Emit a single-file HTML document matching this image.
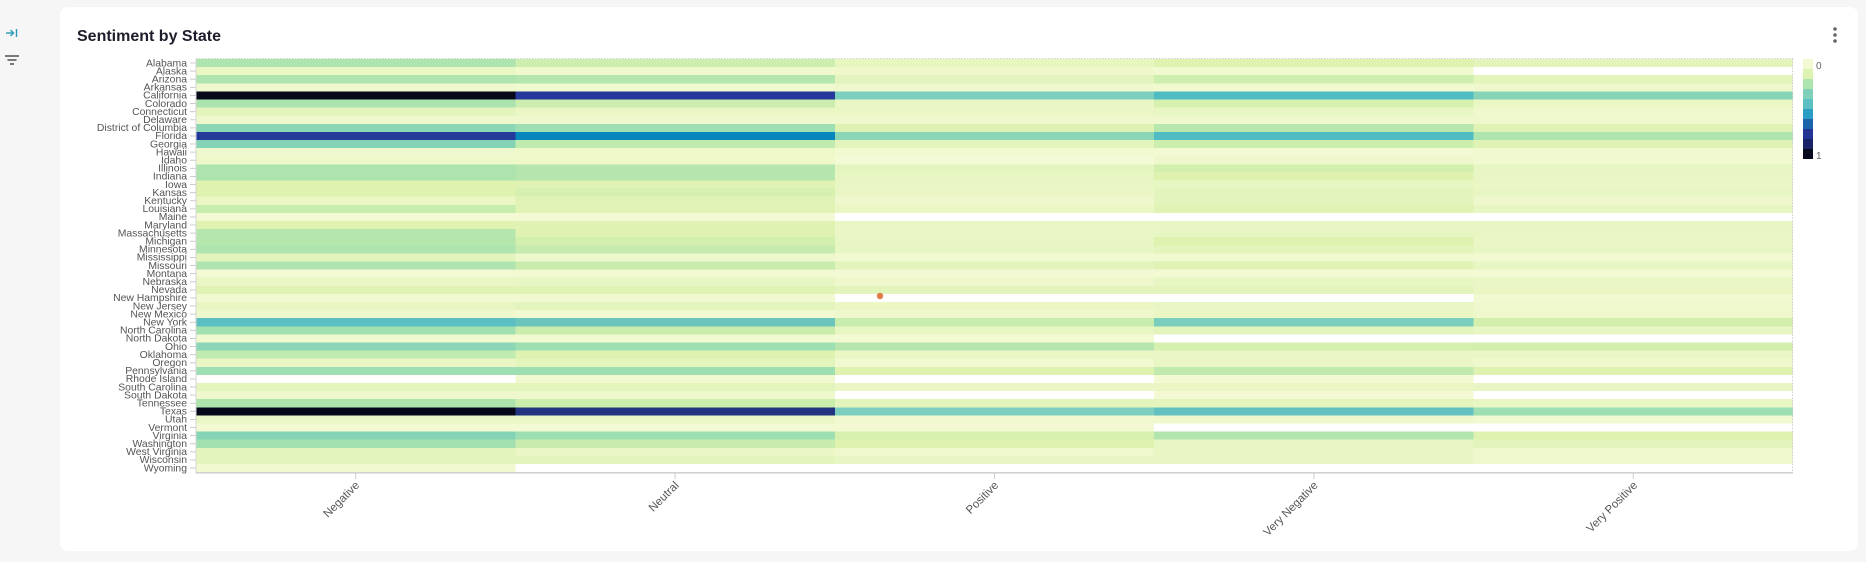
<!DOCTYPE html>
<html><head><meta charset="utf-8"><style>
html,body{margin:0;padding:0;background:#f6f6f6;width:1866px;height:562px;overflow:hidden;font-family:"Liberation Sans",sans-serif}
.card{position:absolute;left:60px;top:7px;width:1798px;height:544px;background:#fff;border-radius:8px}
svg{position:absolute;left:0;top:0}
</style></head><body>
<div class="card"></div>
<svg width="1866" height="562" viewBox="0 0 1866 562" xmlns="http://www.w3.org/2000/svg">
<!-- sidebar icons -->
<g stroke="#2b9cb8" stroke-width="1.4" fill="none">
<line x1="6" y1="33" x2="13.5" y2="33"/><polyline points="10.5,30 13.5,33 10.5,36"/><line x1="16.5" y1="29" x2="16.5" y2="37"/>
</g>
<g stroke="#444" stroke-width="1.4">
<line x1="5" y1="56" x2="19" y2="56"/><line x1="7.5" y1="60" x2="16.5" y2="60"/><line x1="10" y1="64" x2="14" y2="64"/>
</g>
<!-- title -->
<text x="77" y="41" font-family="Liberation Sans, sans-serif" font-size="16" font-weight="bold" fill="#1d1d2b">Sentiment by State</text>
<!-- kebab -->
<g fill="#666"><circle cx="1835" cy="29" r="1.8"/><circle cx="1835" cy="35" r="1.8"/><circle cx="1835" cy="41" r="1.8"/></g>

<!-- heatmap cells -->
<g shape-rendering="crispEdges">
<g transform="translate(0,59)"><rect x="196" width="319.6" height="8.2" fill="#aee5ae"/><rect x="515.4" width="319.6" height="8.2" fill="#cdeeae"/><rect x="834.8" width="319.6" height="8.2" fill="#e8f6c0"/><rect x="1154.2" width="319.6" height="8.2" fill="#dff2b0"/><rect x="1473.6" width="319.4" height="8.2" fill="#e3f4bc"/></g>
<g transform="translate(0,67.1)"><rect x="196" width="319.6" height="8.2" fill="#eaf7c4"/><rect x="515.4" width="319.6" height="8.2" fill="#eff9cb"/><rect x="834.8" width="319.6" height="8.2" fill="#eff8cb"/><rect x="1154.2" width="319.6" height="8.2" fill="#f0f9cf"/><rect x="1473.6" width="319.4" height="8.2" fill="#ffffff"/></g>
<g transform="translate(0,75.2)"><rect x="196" width="319.6" height="8.2" fill="#b0e4ae"/><rect x="515.4" width="319.6" height="8.2" fill="#b5e6ae"/><rect x="834.8" width="319.6" height="8.2" fill="#e3f4bf"/><rect x="1154.2" width="319.6" height="8.2" fill="#cdeeae"/><rect x="1473.6" width="319.4" height="8.2" fill="#e3f4bc"/></g>
<g transform="translate(0,83.3)"><rect x="196" width="319.6" height="8.2" fill="#eef8cc"/><rect x="515.4" width="319.6" height="8.2" fill="#f0f9cf"/><rect x="834.8" width="319.6" height="8.2" fill="#eef8cc"/><rect x="1154.2" width="319.6" height="8.2" fill="#f0f9cf"/><rect x="1473.6" width="319.4" height="8.2" fill="#eef8cc"/></g>
<g transform="translate(0,91.4)"><rect x="196" width="319.6" height="8.2" fill="#07071a"/><rect x="515.4" width="319.6" height="8.2" fill="#25379a"/><rect x="834.8" width="319.6" height="8.2" fill="#7ccfbe"/><rect x="1154.2" width="319.6" height="8.2" fill="#51bbc4"/><rect x="1473.6" width="319.4" height="8.2" fill="#86d3b8"/></g>
<g transform="translate(0,99.5)"><rect x="196" width="319.6" height="8.2" fill="#abe3ae"/><rect x="515.4" width="319.6" height="8.2" fill="#cbedae"/><rect x="834.8" width="319.6" height="8.2" fill="#eaf7c5"/><rect x="1154.2" width="319.6" height="8.2" fill="#d6f0b0"/><rect x="1473.6" width="319.4" height="8.2" fill="#eaf7c5"/></g>
<g transform="translate(0,107.6)"><rect x="196" width="319.6" height="8.2" fill="#e3f4bd"/><rect x="515.4" width="319.6" height="8.2" fill="#eaf7c5"/><rect x="834.8" width="319.6" height="8.2" fill="#eaf7c5"/><rect x="1154.2" width="319.6" height="8.2" fill="#e8f6c3"/><rect x="1473.6" width="319.4" height="8.2" fill="#eef8cc"/></g>
<g transform="translate(0,115.7)"><rect x="196" width="319.6" height="8.2" fill="#eef8cc"/><rect x="515.4" width="319.6" height="8.2" fill="#eef8cc"/><rect x="834.8" width="319.6" height="8.2" fill="#eef8cc"/><rect x="1154.2" width="319.6" height="8.2" fill="#eef8cc"/><rect x="1473.6" width="319.4" height="8.2" fill="#eef8cc"/></g>
<g transform="translate(0,123.8)"><rect x="196" width="319.6" height="8.2" fill="#8bd6b5"/><rect x="515.4" width="319.6" height="8.2" fill="#9ddfb2"/><rect x="834.8" width="319.6" height="8.2" fill="#def2b3"/><rect x="1154.2" width="319.6" height="8.2" fill="#b8e7ae"/><rect x="1473.6" width="319.4" height="8.2" fill="#e0f3b5"/></g>
<g transform="translate(0,131.9)"><rect x="196" width="319.6" height="8.2" fill="#24399a"/><rect x="515.4" width="319.6" height="8.2" fill="#0785bd"/><rect x="834.8" width="319.6" height="8.2" fill="#8ad6b6"/><rect x="1154.2" width="319.6" height="8.2" fill="#51bbc4"/><rect x="1473.6" width="319.4" height="8.2" fill="#aee5ae"/></g>
<g transform="translate(0,140)"><rect x="196" width="319.6" height="8.2" fill="#85d3b6"/><rect x="515.4" width="319.6" height="8.2" fill="#c0eaae"/><rect x="834.8" width="319.6" height="8.2" fill="#e3f4bc"/><rect x="1154.2" width="319.6" height="8.2" fill="#cbedae"/><rect x="1473.6" width="319.4" height="8.2" fill="#e0f3b5"/></g>
<g transform="translate(0,148.1)"><rect x="196" width="319.6" height="8.2" fill="#eef8ce"/><rect x="515.4" width="319.6" height="8.2" fill="#eef8c8"/><rect x="834.8" width="319.6" height="8.2" fill="#f0f9cf"/><rect x="1154.2" width="319.6" height="8.2" fill="#f3f9d3"/><rect x="1473.6" width="319.4" height="8.2" fill="#f0f9cf"/></g>
<g transform="translate(0,156.2)"><rect x="196" width="319.6" height="8.2" fill="#eef8c8"/><rect x="515.4" width="319.6" height="8.2" fill="#eef8c8"/><rect x="834.8" width="319.6" height="8.2" fill="#f3fad6"/><rect x="1154.2" width="319.6" height="8.2" fill="#eef8cc"/><rect x="1473.6" width="319.4" height="8.2" fill="#f0f9cf"/></g>
<g transform="translate(0,164.3)"><rect x="196" width="319.6" height="8.2" fill="#ade4ae"/><rect x="515.4" width="319.6" height="8.2" fill="#b6e6ae"/><rect x="834.8" width="319.6" height="8.2" fill="#e5f5c0"/><rect x="1154.2" width="319.6" height="8.2" fill="#d3efae"/><rect x="1473.6" width="319.4" height="8.2" fill="#e8f6c3"/></g>
<g transform="translate(0,172.4)"><rect x="196" width="319.6" height="8.2" fill="#ade4ae"/><rect x="515.4" width="319.6" height="8.2" fill="#b6e6ae"/><rect x="834.8" width="319.6" height="8.2" fill="#e8f6c3"/><rect x="1154.2" width="319.6" height="8.2" fill="#dff2b0"/><rect x="1473.6" width="319.4" height="8.2" fill="#e8f6c3"/></g>
<g transform="translate(0,180.5)"><rect x="196" width="319.6" height="8.2" fill="#dff2b0"/><rect x="515.4" width="319.6" height="8.2" fill="#e0f3b5"/><rect x="834.8" width="319.6" height="8.2" fill="#e8f6c3"/><rect x="1154.2" width="319.6" height="8.2" fill="#e8f6c3"/><rect x="1473.6" width="319.4" height="8.2" fill="#eaf7c5"/></g>
<g transform="translate(0,188.6)"><rect x="196" width="319.6" height="8.2" fill="#dff2b0"/><rect x="515.4" width="319.6" height="8.2" fill="#d6f0b0"/><rect x="834.8" width="319.6" height="8.2" fill="#eaf7c4"/><rect x="1154.2" width="319.6" height="8.2" fill="#e3f4bc"/><rect x="1473.6" width="319.4" height="8.2" fill="#e8f6c3"/></g>
<g transform="translate(0,196.7)"><rect x="196" width="319.6" height="8.2" fill="#eaf7c5"/><rect x="515.4" width="319.6" height="8.2" fill="#e0f3b5"/><rect x="834.8" width="319.6" height="8.2" fill="#eef8cc"/><rect x="1154.2" width="319.6" height="8.2" fill="#e3f4bc"/><rect x="1473.6" width="319.4" height="8.2" fill="#eef8cc"/></g>
<g transform="translate(0,204.8)"><rect x="196" width="319.6" height="8.2" fill="#c6ecae"/><rect x="515.4" width="319.6" height="8.2" fill="#e0f3b5"/><rect x="834.8" width="319.6" height="8.2" fill="#eaf7c5"/><rect x="1154.2" width="319.6" height="8.2" fill="#e0f3b5"/><rect x="1473.6" width="319.4" height="8.2" fill="#e8f6c3"/></g>
<g transform="translate(0,212.9)"><rect x="196" width="319.6" height="8.2" fill="#f3f9d3"/><rect x="515.4" width="319.6" height="8.2" fill="#f3f9d3"/><rect x="834.8" width="319.6" height="8.2" fill="#ffffff"/><rect x="1154.2" width="319.6" height="8.2" fill="#ffffff"/><rect x="1473.6" width="319.4" height="8.2" fill="#ffffff"/></g>
<g transform="translate(0,221)"><rect x="196" width="319.6" height="8.2" fill="#dff2b0"/><rect x="515.4" width="319.6" height="8.2" fill="#e0f3b5"/><rect x="834.8" width="319.6" height="8.2" fill="#eaf7c5"/><rect x="1154.2" width="319.6" height="8.2" fill="#e8f6c3"/><rect x="1473.6" width="319.4" height="8.2" fill="#e8f6c3"/></g>
<g transform="translate(0,229.1)"><rect x="196" width="319.6" height="8.2" fill="#b5e6ae"/><rect x="515.4" width="319.6" height="8.2" fill="#dff2b2"/><rect x="834.8" width="319.6" height="8.2" fill="#eaf7c5"/><rect x="1154.2" width="319.6" height="8.2" fill="#e8f6c3"/><rect x="1473.6" width="319.4" height="8.2" fill="#e8f6c3"/></g>
<g transform="translate(0,237.2)"><rect x="196" width="319.6" height="8.2" fill="#b5e6ae"/><rect x="515.4" width="319.6" height="8.2" fill="#d3efae"/><rect x="834.8" width="319.6" height="8.2" fill="#e8f6c3"/><rect x="1154.2" width="319.6" height="8.2" fill="#dff2b0"/><rect x="1473.6" width="319.4" height="8.2" fill="#eaf7c5"/></g>
<g transform="translate(0,245.3)"><rect x="196" width="319.6" height="8.2" fill="#b0e4ae"/><rect x="515.4" width="319.6" height="8.2" fill="#c5ebae"/><rect x="834.8" width="319.6" height="8.2" fill="#e8f6c3"/><rect x="1154.2" width="319.6" height="8.2" fill="#e3f4bc"/><rect x="1473.6" width="319.4" height="8.2" fill="#e8f6c3"/></g>
<g transform="translate(0,253.4)"><rect x="196" width="319.6" height="8.2" fill="#e3f4bd"/><rect x="515.4" width="319.6" height="8.2" fill="#eef8cc"/><rect x="834.8" width="319.6" height="8.2" fill="#f0f9cf"/><rect x="1154.2" width="319.6" height="8.2" fill="#f0f9cf"/><rect x="1473.6" width="319.4" height="8.2" fill="#f0f9cf"/></g>
<g transform="translate(0,261.5)"><rect x="196" width="319.6" height="8.2" fill="#b0e4ae"/><rect x="515.4" width="319.6" height="8.2" fill="#c7ecae"/><rect x="834.8" width="319.6" height="8.2" fill="#e3f4bc"/><rect x="1154.2" width="319.6" height="8.2" fill="#e0f3b5"/><rect x="1473.6" width="319.4" height="8.2" fill="#e8f6c3"/></g>
<g transform="translate(0,269.6)"><rect x="196" width="319.6" height="8.2" fill="#f3f9d3"/><rect x="515.4" width="319.6" height="8.2" fill="#f0f9cf"/><rect x="834.8" width="319.6" height="8.2" fill="#f3f9d3"/><rect x="1154.2" width="319.6" height="8.2" fill="#f3f9d3"/><rect x="1473.6" width="319.4" height="8.2" fill="#f3f9d3"/></g>
<g transform="translate(0,277.7)"><rect x="196" width="319.6" height="8.2" fill="#eaf7c5"/><rect x="515.4" width="319.6" height="8.2" fill="#e8f6c3"/><rect x="834.8" width="319.6" height="8.2" fill="#eef8cc"/><rect x="1154.2" width="319.6" height="8.2" fill="#e8f6c3"/><rect x="1473.6" width="319.4" height="8.2" fill="#eaf7c5"/></g>
<g transform="translate(0,285.8)"><rect x="196" width="319.6" height="8.2" fill="#e0f3b5"/><rect x="515.4" width="319.6" height="8.2" fill="#e0f3b5"/><rect x="834.8" width="319.6" height="8.2" fill="#e3f4bc"/><rect x="1154.2" width="319.6" height="8.2" fill="#e3f4bc"/><rect x="1473.6" width="319.4" height="8.2" fill="#eaf7c5"/></g>
<g transform="translate(0,293.9)"><rect x="196" width="319.6" height="8.2" fill="#f0f9cf"/><rect x="515.4" width="319.6" height="8.2" fill="#f0f9cf"/><rect x="834.8" width="319.6" height="8.2" fill="#ffffff"/><rect x="1154.2" width="319.6" height="8.2" fill="#ffffff"/><rect x="1473.6" width="319.4" height="8.2" fill="#f0f9cf"/></g>
<g transform="translate(0,302)"><rect x="196" width="319.6" height="8.2" fill="#e8f6c3"/><rect x="515.4" width="319.6" height="8.2" fill="#e3f4bc"/><rect x="834.8" width="319.6" height="8.2" fill="#eaf7c5"/><rect x="1154.2" width="319.6" height="8.2" fill="#e8f6c3"/><rect x="1473.6" width="319.4" height="8.2" fill="#eef8cc"/></g>
<g transform="translate(0,310.1)"><rect x="196" width="319.6" height="8.2" fill="#eef8cc"/><rect x="515.4" width="319.6" height="8.2" fill="#f0f9cf"/><rect x="834.8" width="319.6" height="8.2" fill="#eef8cc"/><rect x="1154.2" width="319.6" height="8.2" fill="#eaf7c5"/><rect x="1473.6" width="319.4" height="8.2" fill="#eef8cc"/></g>
<g transform="translate(0,318.2)"><rect x="196" width="319.6" height="8.2" fill="#5cbfc2"/><rect x="515.4" width="319.6" height="8.2" fill="#6cc5bd"/><rect x="834.8" width="319.6" height="8.2" fill="#c7ecae"/><rect x="1154.2" width="319.6" height="8.2" fill="#79cebe"/><rect x="1473.6" width="319.4" height="8.2" fill="#d3efae"/></g>
<g transform="translate(0,326.3)"><rect x="196" width="319.6" height="8.2" fill="#a3e0b0"/><rect x="515.4" width="319.6" height="8.2" fill="#caedae"/><rect x="834.8" width="319.6" height="8.2" fill="#e8f6c3"/><rect x="1154.2" width="319.6" height="8.2" fill="#e3f4bc"/><rect x="1473.6" width="319.4" height="8.2" fill="#e8f6c3"/></g>
<g transform="translate(0,334.4)"><rect x="196" width="319.6" height="8.2" fill="#f0f9cf"/><rect x="515.4" width="319.6" height="8.2" fill="#f0f9cf"/><rect x="834.8" width="319.6" height="8.2" fill="#f3f9d3"/><rect x="1154.2" width="319.6" height="8.2" fill="#ffffff"/><rect x="1473.6" width="319.4" height="8.2" fill="#ffffff"/></g>
<g transform="translate(0,342.5)"><rect x="196" width="319.6" height="8.2" fill="#8bd6b6"/><rect x="515.4" width="319.6" height="8.2" fill="#9ddfb2"/><rect x="834.8" width="319.6" height="8.2" fill="#b6e6ae"/><rect x="1154.2" width="319.6" height="8.2" fill="#d6f0b0"/><rect x="1473.6" width="319.4" height="8.2" fill="#d3efae"/></g>
<g transform="translate(0,350.6)"><rect x="196" width="319.6" height="8.2" fill="#c0eaae"/><rect x="515.4" width="319.6" height="8.2" fill="#dff2b2"/><rect x="834.8" width="319.6" height="8.2" fill="#eaf7c5"/><rect x="1154.2" width="319.6" height="8.2" fill="#eaf7c5"/><rect x="1473.6" width="319.4" height="8.2" fill="#eaf7c5"/></g>
<g transform="translate(0,358.7)"><rect x="196" width="319.6" height="8.2" fill="#eaf7c5"/><rect x="515.4" width="319.6" height="8.2" fill="#e3f4bc"/><rect x="834.8" width="319.6" height="8.2" fill="#f0f9cf"/><rect x="1154.2" width="319.6" height="8.2" fill="#eaf7c5"/><rect x="1473.6" width="319.4" height="8.2" fill="#eef8cc"/></g>
<g transform="translate(0,366.8)"><rect x="196" width="319.6" height="8.2" fill="#9ddfb2"/><rect x="515.4" width="319.6" height="8.2" fill="#9ddfb2"/><rect x="834.8" width="319.6" height="8.2" fill="#dff2b0"/><rect x="1154.2" width="319.6" height="8.2" fill="#c0eaae"/><rect x="1473.6" width="319.4" height="8.2" fill="#dff2b0"/></g>
<g transform="translate(0,374.9)"><rect x="196" width="319.6" height="8.2" fill="#ffffff"/><rect x="515.4" width="319.6" height="8.2" fill="#f0f9cf"/><rect x="834.8" width="319.6" height="8.2" fill="#ffffff"/><rect x="1154.2" width="319.6" height="8.2" fill="#f3f9d3"/><rect x="1473.6" width="319.4" height="8.2" fill="#ffffff"/></g>
<g transform="translate(0,383)"><rect x="196" width="319.6" height="8.2" fill="#e3f4bc"/><rect x="515.4" width="319.6" height="8.2" fill="#e3f4bc"/><rect x="834.8" width="319.6" height="8.2" fill="#eaf7c5"/><rect x="1154.2" width="319.6" height="8.2" fill="#eaf7c5"/><rect x="1473.6" width="319.4" height="8.2" fill="#e8f6c3"/></g>
<g transform="translate(0,391.1)"><rect x="196" width="319.6" height="8.2" fill="#eef8cc"/><rect x="515.4" width="319.6" height="8.2" fill="#eef8cc"/><rect x="834.8" width="319.6" height="8.2" fill="#ffffff"/><rect x="1154.2" width="319.6" height="8.2" fill="#f3f9d3"/><rect x="1473.6" width="319.4" height="8.2" fill="#ffffff"/></g>
<g transform="translate(0,399.2)"><rect x="196" width="319.6" height="8.2" fill="#ade4ae"/><rect x="515.4" width="319.6" height="8.2" fill="#caedae"/><rect x="834.8" width="319.6" height="8.2" fill="#e3f4bc"/><rect x="1154.2" width="319.6" height="8.2" fill="#e3f4bc"/><rect x="1473.6" width="319.4" height="8.2" fill="#e8f6c3"/></g>
<g transform="translate(0,407.3)"><rect x="196" width="319.6" height="8.2" fill="#07071a"/><rect x="515.4" width="319.6" height="8.2" fill="#23337f"/><rect x="834.8" width="319.6" height="8.2" fill="#7ccfbe"/><rect x="1154.2" width="319.6" height="8.2" fill="#62c0c1"/><rect x="1473.6" width="319.4" height="8.2" fill="#9ddfb2"/></g>
<g transform="translate(0,415.4)"><rect x="196" width="319.6" height="8.2" fill="#eaf7c5"/><rect x="515.4" width="319.6" height="8.2" fill="#eaf7c5"/><rect x="834.8" width="319.6" height="8.2" fill="#f0f9cf"/><rect x="1154.2" width="319.6" height="8.2" fill="#eef8cc"/><rect x="1473.6" width="319.4" height="8.2" fill="#f0f9cf"/></g>
<g transform="translate(0,423.5)"><rect x="196" width="319.6" height="8.2" fill="#f3f9d3"/><rect x="515.4" width="319.6" height="8.2" fill="#f3f9d3"/><rect x="834.8" width="319.6" height="8.2" fill="#f3f9d3"/><rect x="1154.2" width="319.6" height="8.2" fill="#ffffff"/><rect x="1473.6" width="319.4" height="8.2" fill="#ffffff"/></g>
<g transform="translate(0,431.6)"><rect x="196" width="319.6" height="8.2" fill="#86d4b6"/><rect x="515.4" width="319.6" height="8.2" fill="#9ddfb2"/><rect x="834.8" width="319.6" height="8.2" fill="#d6f0b0"/><rect x="1154.2" width="319.6" height="8.2" fill="#b2e5ae"/><rect x="1473.6" width="319.4" height="8.2" fill="#dff2b0"/></g>
<g transform="translate(0,439.7)"><rect x="196" width="319.6" height="8.2" fill="#a3e0b0"/><rect x="515.4" width="319.6" height="8.2" fill="#c7ecae"/><rect x="834.8" width="319.6" height="8.2" fill="#dff2b0"/><rect x="1154.2" width="319.6" height="8.2" fill="#e8f6c3"/><rect x="1473.6" width="319.4" height="8.2" fill="#e3f4bc"/></g>
<g transform="translate(0,447.8)"><rect x="196" width="319.6" height="8.2" fill="#e3f4bc"/><rect x="515.4" width="319.6" height="8.2" fill="#eaf7c5"/><rect x="834.8" width="319.6" height="8.2" fill="#eef8cc"/><rect x="1154.2" width="319.6" height="8.2" fill="#e8f6c3"/><rect x="1473.6" width="319.4" height="8.2" fill="#eef8cc"/></g>
<g transform="translate(0,455.9)"><rect x="196" width="319.6" height="8.2" fill="#e3f4bc"/><rect x="515.4" width="319.6" height="8.2" fill="#e3f4bc"/><rect x="834.8" width="319.6" height="8.2" fill="#e8f6c3"/><rect x="1154.2" width="319.6" height="8.2" fill="#e8f6c3"/><rect x="1473.6" width="319.4" height="8.2" fill="#eef8cc"/></g>
<g transform="translate(0,464)"><rect x="196" width="319.6" height="8.1" fill="#f0f9cf"/><rect x="515.4" width="319.6" height="8.1" fill="#ffffff"/><rect x="834.8" width="319.6" height="8.1" fill="#ffffff"/><rect x="1154.2" width="319.6" height="8.1" fill="#ffffff"/><rect x="1473.6" width="319.4" height="8.1" fill="#ffffff"/></g>
</g>

<!-- red dot -->
<circle cx="880" cy="296" r="3.2" fill="#e07b4a"/>

<!-- plot borders -->
<line x1="196" y1="58.5" x2="1793" y2="58.5" stroke="#cfcfcf" stroke-width="1" stroke-dasharray="1.5,1.5"/>
<line x1="1792.5" y1="58.5" x2="1792.5" y2="472" stroke="#cfcfcf" stroke-width="1" stroke-dasharray="1.5,1.5"/>
<line x1="196" y1="58.5" x2="196" y2="473" stroke="#d6d6d6" stroke-width="1"/>
<line x1="195.5" y1="472.8" x2="1793" y2="472.8" stroke="#d2d2d2" stroke-width="1.6"/>

<!-- y ticks -->
<g stroke="#cccccc" stroke-width="1">
<path d="M190 63.05h5.5M190 71.15h5.5M190 79.25h5.5M190 87.35h5.5M190 95.45h5.5M190 103.55h5.5M190 111.65h5.5M190 119.75h5.5M190 127.85h5.5M190 135.95h5.5M190 144.05h5.5M190 152.15h5.5M190 160.25h5.5M190 168.35h5.5M190 176.45h5.5M190 184.55h5.5M190 192.65h5.5M190 200.75h5.5M190 208.85h5.5M190 216.95h5.5M190 225.05h5.5M190 233.15h5.5M190 241.25h5.5M190 249.35h5.5M190 257.45h5.5M190 265.55h5.5M190 273.65h5.5M190 281.75h5.5M190 289.85h5.5M190 297.95h5.5M190 306.05h5.5M190 314.15h5.5M190 322.25h5.5M190 330.35h5.5M190 338.45h5.5M190 346.55h5.5M190 354.65h5.5M190 362.75h5.5M190 370.85h5.5M190 378.95h5.5M190 387.05h5.5M190 395.15h5.5M190 403.25h5.5M190 411.35h5.5M190 419.45h5.5M190 427.55h5.5M190 435.65h5.5M190 443.75h5.5M190 451.85h5.5M190 459.95h5.5M190 468.05h5.5"/>
<path d="M355.7 473v6M675.1 473v6M994.5 473v6M1313.9 473v6M1633.3 473v6"/>
</g>

<!-- y labels -->
<g font-family="Liberation Sans, sans-serif" font-size="10.4" fill="#555" text-anchor="end">
<text x="187" y="66.3">Alabama</text>
<text x="187" y="74.4">Alaska</text>
<text x="187" y="82.5">Arizona</text>
<text x="187" y="90.6">Arkansas</text>
<text x="187" y="98.7">California</text>
<text x="187" y="106.8">Colorado</text>
<text x="187" y="114.9">Connecticut</text>
<text x="187" y="123">Delaware</text>
<text x="187" y="131.1">District of Columbia</text>
<text x="187" y="139.2">Florida</text>
<text x="187" y="147.3">Georgia</text>
<text x="187" y="155.4">Hawaii</text>
<text x="187" y="163.5">Idaho</text>
<text x="187" y="171.6">Illinois</text>
<text x="187" y="179.7">Indiana</text>
<text x="187" y="187.8">Iowa</text>
<text x="187" y="195.9">Kansas</text>
<text x="187" y="204">Kentucky</text>
<text x="187" y="212.1">Louisiana</text>
<text x="187" y="220.2">Maine</text>
<text x="187" y="228.3">Maryland</text>
<text x="187" y="236.4">Massachusetts</text>
<text x="187" y="244.5">Michigan</text>
<text x="187" y="252.6">Minnesota</text>
<text x="187" y="260.7">Mississippi</text>
<text x="187" y="268.8">Missouri</text>
<text x="187" y="276.9">Montana</text>
<text x="187" y="285">Nebraska</text>
<text x="187" y="293.1">Nevada</text>
<text x="187" y="301.2">New Hampshire</text>
<text x="187" y="309.3">New Jersey</text>
<text x="187" y="317.4">New Mexico</text>
<text x="187" y="325.5">New York</text>
<text x="187" y="333.6">North Carolina</text>
<text x="187" y="341.7">North Dakota</text>
<text x="187" y="349.8">Ohio</text>
<text x="187" y="357.9">Oklahoma</text>
<text x="187" y="366">Oregon</text>
<text x="187" y="374.1">Pennsylvania</text>
<text x="187" y="382.2">Rhode Island</text>
<text x="187" y="390.3">South Carolina</text>
<text x="187" y="398.4">South Dakota</text>
<text x="187" y="406.5">Tennessee</text>
<text x="187" y="414.6">Texas</text>
<text x="187" y="422.7">Utah</text>
<text x="187" y="430.8">Vermont</text>
<text x="187" y="438.9">Virginia</text>
<text x="187" y="447">Washington</text>
<text x="187" y="455.1">West Virginia</text>
<text x="187" y="463.2">Wisconsin</text>
<text x="187" y="471.3">Wyoming</text>
</g>

<!-- x labels -->
<g font-family="Liberation Sans, sans-serif" font-size="11.5" fill="#555" text-anchor="end">
<text transform="translate(360,486) rotate(-45)">Negative</text>
<text transform="translate(679.5,486) rotate(-45)">Neutral</text>
<text transform="translate(999,486) rotate(-45)">Positive</text>
<text transform="translate(1318.5,486) rotate(-45)">Very Negative</text>
<text transform="translate(1638,486) rotate(-45)">Very Positive</text>
</g>

<!-- legend -->
<g shape-rendering="crispEdges">
<rect x="1803" y="59" width="10" height="10" fill="#f3f9d3"/>
<rect x="1803" y="69" width="10" height="10" fill="#def2b2"/>
<rect x="1803" y="79" width="10" height="10" fill="#aee5ae"/>
<rect x="1803" y="89" width="10" height="10" fill="#7fcfbb"/>
<rect x="1803" y="99" width="10" height="10" fill="#5cbfc2"/>
<rect x="1803" y="109" width="10" height="10" fill="#2a9dc5"/>
<rect x="1803" y="119" width="10" height="10" fill="#1b64aa"/>
<rect x="1803" y="129" width="10" height="10" fill="#253494"/>
<rect x="1803" y="139" width="10" height="10" fill="#1b2368"/>
<rect x="1803" y="149" width="10" height="10" fill="#080a20"/>
</g>
<g font-family="Liberation Sans, sans-serif" font-size="10" fill="#666">
<text x="1816" y="69">0</text>
<text x="1816" y="159">1</text>
</g>
</svg>
</body></html>
